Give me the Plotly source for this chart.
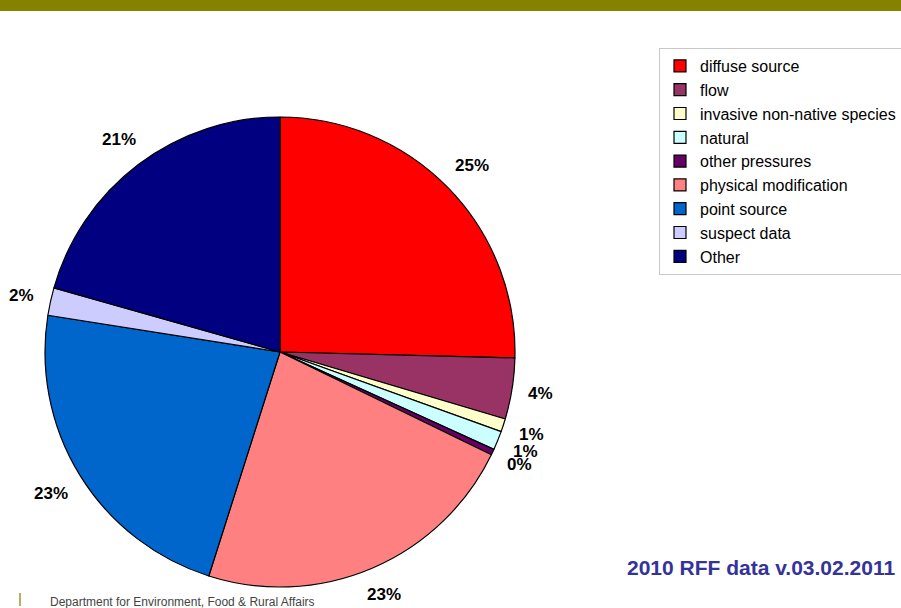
import numpy as np
import plotly.graph_objects as go

# pressure categories and their share (%)
labels = ["diffuse source", "flow", "invasive non-native species", "natural",
          "other pressures", "physical modification", "point source",
          "suspect data", "Other"]
values = [25.4, 4.2, 0.9, 1.3, 0.4, 22.7, 22.6, 1.9, 20.6]
colors = ["#FF0000", "#993366", "#FFFFCC", "#CCFFFF", "#660066",
          "#FF8080", "#0066CC", "#CCCCFF", "#000080"]

W, H = 901, 608
cx, cy, R = 280, 352, 235  # pie centre / radius in pixels

fig = go.Figure()
fig.add_trace(go.Pie(
    labels=labels, values=values, sort=False, direction="clockwise", rotation=0,
    marker=dict(colors=colors, line=dict(color="black", width=1.2)),
    textinfo="none", hoverinfo="label+percent",
    domain=dict(x=[(cx - R) / W, (cx + R) / W],
                y=[(H - cy - R) / H, (H - cy + R) / H]),
))

# percentage labels outside the slices
total = sum(values)
cum = np.cumsum([0] + values)
fs = 17
for i, v in enumerate(values):
    txt = f"{int(v / total * 100 + 0.5)}%"
    mid = (cum[i] + v / 2) / total * 2 * np.pi
    s, c = np.sin(mid), np.cos(mid)
    w = ((len(txt) - 1) * 0.556 + 0.889) * fs
    h = 13
    r = R + 16 + abs(s) * w / 2 + abs(c) * h / 2
    px, py = cx + r * s, cy - r * c
    fig.add_annotation(x=px / W, y=1 - py / H, xref="paper", yref="paper",
                       text=txt, showarrow=False, xanchor="center", yanchor="middle",
                       font=dict(family="Arial, Liberation Sans", size=fs, color="black",
                                 weight="bold"))

fig.add_annotation(x=897 / W, y=1 - 567 / H, xref="paper", yref="paper",
                   text="<b>2010 RFF data v.03.02.2011</b>", showarrow=False,
                   xanchor="right", yanchor="middle",
                   font=dict(family="Arial, Liberation Sans", size=21, color="#333399"))

fig.add_annotation(x=48 / W, y=1 - 602 / H, xref="paper", yref="paper",
                   text="Department for Environment, Food & Rural Affairs", showarrow=False,
                   xanchor="left", yanchor="middle",
                   font=dict(family="Arial, Liberation Sans", size=12, color="#444444"))

# olive band at top and small bar by the department name
fig.add_shape(type="rect", xref="paper", yref="paper", x0=0, x1=1, y0=1 - 11 / H, y1=1,
              fillcolor="#848200", line=dict(width=0), layer="below")
fig.add_shape(type="line", xref="paper", yref="paper", x0=20 / W, x1=20 / W,
              y0=1 - 606 / H, y1=1 - 593 / H, line=dict(color="#B8B060", width=2))

fig.update_layout(
    width=W, height=H,
    margin=dict(l=0, r=0, t=0, b=0, autoexpand=False),
    paper_bgcolor="white", plot_bgcolor="white",
    showlegend=True,
    legend=dict(x=659 / W, y=1 - 48 / H, xanchor="left", yanchor="top",
                bgcolor="white", bordercolor="#C8C8C8", borderwidth=1,
                font=dict(family="Arial, Liberation Sans", size=16, color="black"),
                itemclick=False, itemdoubleclick=False),
)

fig.write_html("out.html", config={"displayModeBar": False},
               post_script="document.body.style.margin='0';document.body.style.overflow='hidden';")
